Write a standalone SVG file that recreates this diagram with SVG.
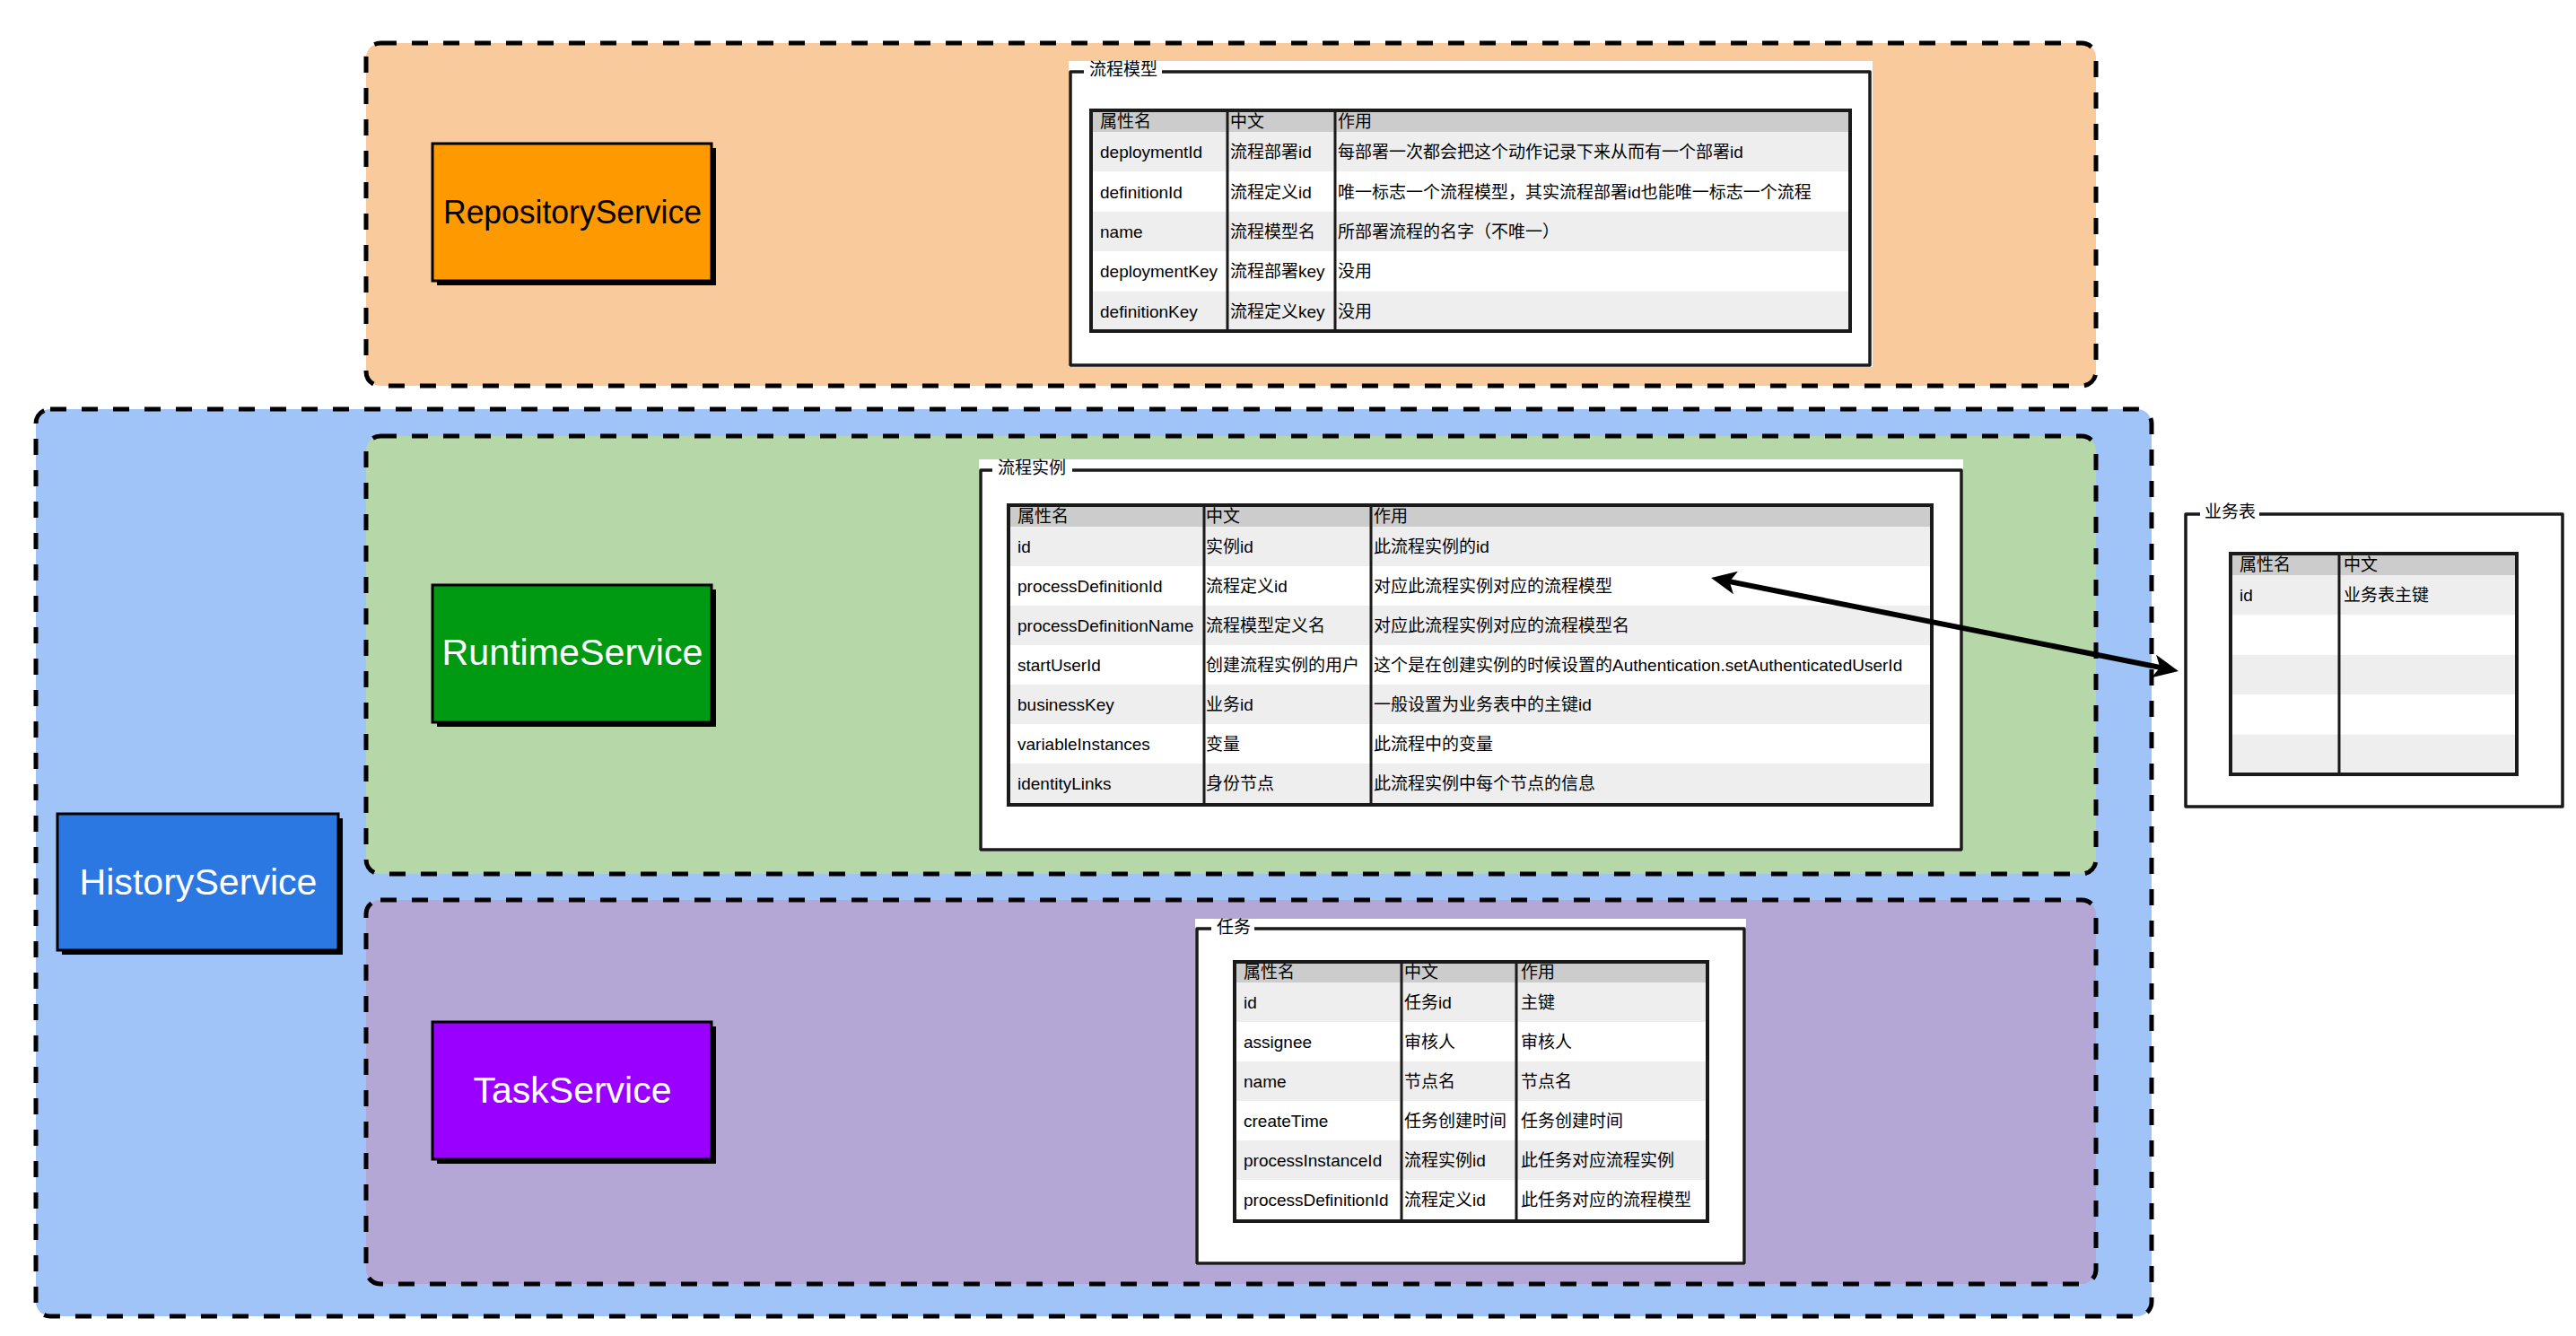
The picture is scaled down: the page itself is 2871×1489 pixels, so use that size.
<svg xmlns="http://www.w3.org/2000/svg" width="2871" height="1489" viewBox="0 0 2871 1489">
<defs>
<style>
.grp{stroke:#000;stroke-width:5;stroke-dasharray:18 17}
.shadow{fill:#000}
.svc{stroke:#000;stroke-width:3}
.slbl{font-family:"Liberation Sans","Noto Sans",sans-serif;text-anchor:middle}
.t{font-family:"Liberation Sans","Noto Sans CJK SC",sans-serif;font-size:19px;fill:#000}
.hdr{fill:#cccccc}
.ra{fill:#eeeeee}
.rb{fill:#ffffff}
.tb{fill:none;stroke:#1a1a1a;stroke-width:4}
.col{stroke:#1a1a1a;stroke-width:3}
.fbg{fill:#ffffff}
.frm{fill:none;stroke:#1a1a1a;stroke-width:3.5;stroke-linejoin:round}
.conn{fill:none;stroke:#000;stroke-width:6}
</style>
<marker id="ah" viewBox="0 0 28 26" refX="16" refY="13" markerWidth="28" markerHeight="26" markerUnits="userSpaceOnUse" orient="auto-start-reverse">
<path d="M0,0 L28,13 L0,26 L7,13 Z" fill="#000"/>
</marker>
</defs>
<rect width="2871" height="1489" fill="#ffffff"/>

<g id="group-history">
<rect class="grp" x="40" y="456" width="2358" height="1011" rx="16" fill="#a0c4f7"/>
</g>
<g id="group-repository">
<rect class="grp" x="408" y="48" width="1928" height="382" rx="16" fill="#f9cb9c"/>
</g>
<g id="group-runtime">
<rect class="grp" x="408" y="486" width="1928" height="488" rx="16" fill="#b6d7a8"/>
</g>
<g id="group-task">
<rect class="grp" x="408" y="1003" width="1928" height="428" rx="16" fill="#b4a7d6"/>
</g>

<g id="node-repositoryservice">
<rect class="shadow" x="487" y="165" width="311" height="153"/>
<rect class="svc" x="482" y="160" width="311" height="153" fill="#ff9900"/>
<text class="slbl" x="638" y="249" font-size="36" fill="#000" textLength="288" lengthAdjust="spacingAndGlyphs">RepositoryService</text>
</g>
<g id="node-runtimeservice">
<rect class="shadow" x="487" y="657" width="311" height="153"/>
<rect class="svc" x="482" y="652" width="311" height="153" fill="#009a12"/>
<text class="slbl" x="638" y="741" font-size="40" fill="#fff" textLength="291" lengthAdjust="spacingAndGlyphs">RuntimeService</text>
</g>
<g id="node-historyservice">
<rect class="shadow" x="69" y="912" width="313" height="152"/>
<rect class="svc" x="64" y="907" width="313" height="152" fill="#2c78e3"/>
<text class="slbl" x="221" y="997" font-size="40" fill="#fff" textLength="265" lengthAdjust="spacingAndGlyphs">HistoryService</text>
</g>
<g id="node-taskservice">
<rect class="shadow" x="487" y="1144" width="311" height="153"/>
<rect class="svc" x="482" y="1139" width="311" height="153" fill="#9900ff"/>
<text class="slbl" x="638" y="1229" font-size="40" fill="#fff" textLength="221" lengthAdjust="spacingAndGlyphs">TaskService</text>
</g>

<g id="node-process-model">
<rect class="fbg" x="1191" y="68" width="896" height="341"/>
<path class="frm" d="M1208,80 H1193 V407 H2084 V80 H1295"/>
<text class="t" x="1214" y="84">流程模型</text>
<rect class="hdr" x="1216" y="123" width="846" height="24"/>
<rect class="ra" x="1216" y="147" width="846" height="44.4"/>
<rect class="rb" x="1216" y="191.4" width="846" height="44.4"/>
<rect class="ra" x="1216" y="235.8" width="846" height="44.4"/>
<rect class="rb" x="1216" y="280.2" width="846" height="44.4"/>
<rect class="ra" x="1216" y="324.6" width="846" height="44.4"/>
<line class="col" x1="1368" y1="123" x2="1368" y2="369"/>
<line class="col" x1="1488" y1="123" x2="1488" y2="369"/>
<rect class="tb" x="1216" y="123" width="846" height="246"/>
<text class="t" x="1226" y="142">属性名</text><text class="t" x="1371" y="142">中文</text><text class="t" x="1491" y="142">作用</text>
<text class="t" x="1226" y="176">deploymentId</text><text class="t" x="1371" y="176">流程部署id</text><text class="t" x="1491" y="176">每部署一次都会把这个动作记录下来从而有一个部署id</text>
<text class="t" x="1226" y="221">definitionId</text><text class="t" x="1371" y="221">流程定义id</text><text class="t" x="1491" y="221">唯一标志一个流程模型，其实流程部署id也能唯一标志一个流程</text>
<text class="t" x="1226" y="265">name</text><text class="t" x="1371" y="265">流程模型名</text><text class="t" x="1491" y="265">所部署流程的名字（不唯一）</text>
<text class="t" x="1226" y="309">deploymentKey</text><text class="t" x="1371" y="309">流程部署key</text><text class="t" x="1491" y="309">没用</text>
<text class="t" x="1226" y="354">definitionKey</text><text class="t" x="1371" y="354">流程定义key</text><text class="t" x="1491" y="354">没用</text>
</g>

<g id="node-process-instance">
<rect class="fbg" x="1091" y="512" width="1097" height="437"/>
<path class="frm" d="M1106,524 H1093 V947 H2186 V524 H1195"/>
<text class="t" x="1112" y="528">流程实例</text>
<rect class="hdr" x="1124" y="563" width="1029" height="24"/>
<rect class="ra" x="1124" y="587" width="1029" height="44"/>
<rect class="rb" x="1124" y="631" width="1029" height="44"/>
<rect class="ra" x="1124" y="675" width="1029" height="44"/>
<rect class="rb" x="1124" y="719" width="1029" height="44"/>
<rect class="ra" x="1124" y="763" width="1029" height="44"/>
<rect class="rb" x="1124" y="807" width="1029" height="44"/>
<rect class="ra" x="1124" y="851" width="1029" height="46"/>
<line class="col" x1="1342" y1="563" x2="1342" y2="897"/>
<line class="col" x1="1528" y1="563" x2="1528" y2="897"/>
<rect class="tb" x="1124" y="563" width="1029" height="334"/>
<text class="t" x="1134" y="582">属性名</text><text class="t" x="1344" y="582">中文</text><text class="t" x="1531" y="582">作用</text>
<text class="t" x="1134" y="616">id</text><text class="t" x="1344" y="616">实例id</text><text class="t" x="1531" y="616">此流程实例的id</text>
<text class="t" x="1134" y="660">processDefinitionId</text><text class="t" x="1344" y="660">流程定义id</text><text class="t" x="1531" y="660">对应此流程实例对应的流程模型</text>
<text class="t" x="1134" y="704">processDefinitionName</text><text class="t" x="1344" y="704">流程模型定义名</text><text class="t" x="1531" y="704">对应此流程实例对应的流程模型名</text>
<text class="t" x="1134" y="748">startUserId</text><text class="t" x="1344" y="748">创建流程实例的用户</text><text class="t" x="1531" y="748">这个是在创建实例的时候设置的Authentication.setAuthenticatedUserId</text>
<text class="t" x="1134" y="792">businessKey</text><text class="t" x="1344" y="792">业务id</text><text class="t" x="1531" y="792">一般设置为业务表中的主键id</text>
<text class="t" x="1134" y="836">variableInstances</text><text class="t" x="1344" y="836">变量</text><text class="t" x="1531" y="836">此流程中的变量</text>
<text class="t" x="1134" y="880">identityLinks</text><text class="t" x="1344" y="880">身份节点</text><text class="t" x="1531" y="880">此流程实例中每个节点的信息</text>
</g>

<g id="node-task">
<rect class="fbg" x="1332" y="1024" width="614" height="386"/>
<path class="frm" d="M1350,1035 H1334 V1408 H1944 V1035 H1398"/>
<text class="t" x="1356" y="1040">任务</text>
<rect class="hdr" x="1376" y="1072" width="527" height="23"/>
<rect class="ra" x="1376" y="1095" width="527" height="44"/>
<rect class="rb" x="1376" y="1139" width="527" height="44"/>
<rect class="ra" x="1376" y="1183" width="527" height="44"/>
<rect class="rb" x="1376" y="1227" width="527" height="44"/>
<rect class="ra" x="1376" y="1271" width="527" height="44"/>
<rect class="rb" x="1376" y="1315" width="527" height="46"/>
<line class="col" x1="1562" y1="1072" x2="1562" y2="1361"/>
<line class="col" x1="1690" y1="1072" x2="1690" y2="1361"/>
<rect class="tb" x="1376" y="1072" width="527" height="289"/>
<text class="t" x="1386" y="1090">属性名</text><text class="t" x="1565" y="1090">中文</text><text class="t" x="1695" y="1090">作用</text>
<text class="t" x="1386" y="1124">id</text><text class="t" x="1565" y="1124">任务id</text><text class="t" x="1695" y="1124">主键</text>
<text class="t" x="1386" y="1168">assignee</text><text class="t" x="1565" y="1168">审核人</text><text class="t" x="1695" y="1168">审核人</text>
<text class="t" x="1386" y="1212">name</text><text class="t" x="1565" y="1212">节点名</text><text class="t" x="1695" y="1212">节点名</text>
<text class="t" x="1386" y="1256">createTime</text><text class="t" x="1565" y="1256">任务创建时间</text><text class="t" x="1695" y="1256">任务创建时间</text>
<text class="t" x="1386" y="1300">processInstanceId</text><text class="t" x="1565" y="1300">流程实例id</text><text class="t" x="1695" y="1300">此任务对应流程实例</text>
<text class="t" x="1386" y="1344">processDefinitionId</text><text class="t" x="1565" y="1344">流程定义id</text><text class="t" x="1695" y="1344">此任务对应的流程模型</text>
</g>

<g id="node-business-table">
<rect class="fbg" x="2434" y="561" width="424" height="340"/>
<path class="frm" d="M2452,573 H2436 V899 H2856 V573 H2518"/>
<text class="t" x="2457" y="577">业务表</text>
<rect class="hdr" x="2486" y="617" width="319" height="24"/>
<rect class="ra" x="2486" y="641" width="319" height="44.4"/>
<rect class="rb" x="2486" y="685.4" width="319" height="44.4"/>
<rect class="ra" x="2486" y="729.8" width="319" height="44.4"/>
<rect class="rb" x="2486" y="774.2" width="319" height="44.4"/>
<rect class="ra" x="2486" y="818.6" width="319" height="44.4"/>
<line class="col" x1="2607" y1="617" x2="2607" y2="863"/>
<rect class="tb" x="2486" y="617" width="319" height="246"/>
<text class="t" x="2496" y="636">属性名</text><text class="t" x="2612" y="636">中文</text>
<text class="t" x="2496" y="670">id</text><text class="t" x="2612" y="670">业务表主键</text>
</g>

<g id="connectors">
<line class="conn" x1="1918.8" y1="646.4" x2="2416.2" y2="745.6" marker-start="url(#ah)" marker-end="url(#ah)"/>
</g>
</svg>
